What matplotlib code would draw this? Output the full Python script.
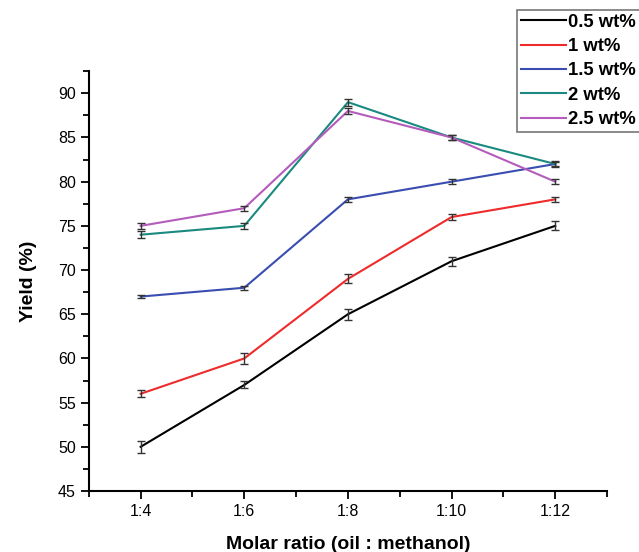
import matplotlib
matplotlib.use("Agg")
import matplotlib.pyplot as plt
from matplotlib.ticker import MultipleLocator

plt.rcParams['font.family'] = ['Liberation Sans', 'DejaVu Sans']

categories = ["1:4", "1:6", "1:8", "1:10", "1:12"]
labels = ["0.5 wt%", "1 wt%", "1.5 wt%", "2 wt%", "2.5 wt%"]
y_05 = [50, 57, 65, 71, 75]
y_1 = [56, 60, 69, 76, 78]
y_15 = [67, 68, 78, 80, 82]
y_2 = [74, 75, 89, 85, 82]
y_25 = [75, 77, 88, 85, 80]
err_05 = [0.7, 0.4, 0.6, 0.5, 0.5]
err_1 = [0.4, 0.6, 0.5, 0.3, 0.3]
err_15 = [0.2, 0.2, 0.3, 0.3, 0.3]
err_2 = [0.4, 0.3, 0.4, 0.3, 0.2]
err_25 = [0.3, 0.3, 0.3, 0.3, 0.3]
series = [y_05, y_1, y_15, y_2, y_25]
errors = [err_05, err_1, err_15, err_2, err_25]
colors = ["#000000", "#ee2b2b", "#3a4db0", "#1a8a80", "#b45cbb"]

fig = plt.figure(figsize=(6.39, 5.52), dpi=100)
ax = fig.add_axes([0.139, 0.1105, 0.811, 0.7605])

x = list(range(len(categories)))
handles = []
for ys, es, c, lab in zip(series, errors, colors, labels):
    h, = ax.plot(x, ys, color=c, lw=1.5, label=lab, zorder=3)
    ax.errorbar(x, ys, yerr=es, fmt='none', ecolor='#333333', elinewidth=1.0,
                capsize=3, capthick=1.0, zorder=4)
    handles.append(h)

ax.set_xlim(-0.5, 4.5)
ax.set_ylim(45, 92.5)
ax.set_xticks(x)
ax.set_xticklabels(categories)
ax.xaxis.set_minor_locator(MultipleLocator(0.5))
ax.yaxis.set_major_locator(MultipleLocator(5))
ax.yaxis.set_minor_locator(MultipleLocator(2.5))
for s in ['top', 'right']:
    ax.spines[s].set_visible(False)
for s in ['left', 'bottom']:
    ax.spines[s].set_linewidth(1.5)
ax.tick_params(which='major', direction='out', length=6, width=1.3, labelsize=11.5)
ax.tick_params(which='minor', direction='out', length=4, width=1.3)

ax.set_xlabel("Molar ratio (oil : methanol)", fontsize=14, fontweight='bold', labelpad=12)
ax.set_ylabel("Yield (%)", fontsize=14, fontweight='bold', labelpad=15)

leg = fig.legend(handles=handles, labels=labels, loc='upper left',
                 bbox_to_anchor=(517/639, 1 - 10/552), bbox_transform=fig.transFigure,
                 frameon=True, fancybox=False, edgecolor='#555555',
                 prop={'weight': 'bold', 'size': 13.3}, handlelength=2.45,
                 handletextpad=0.12, labelspacing=0.4, borderpad=0.2,
                 borderaxespad=0)
leg.get_frame().set_linewidth(1.2)

fig.savefig("out.png", dpi=100)
